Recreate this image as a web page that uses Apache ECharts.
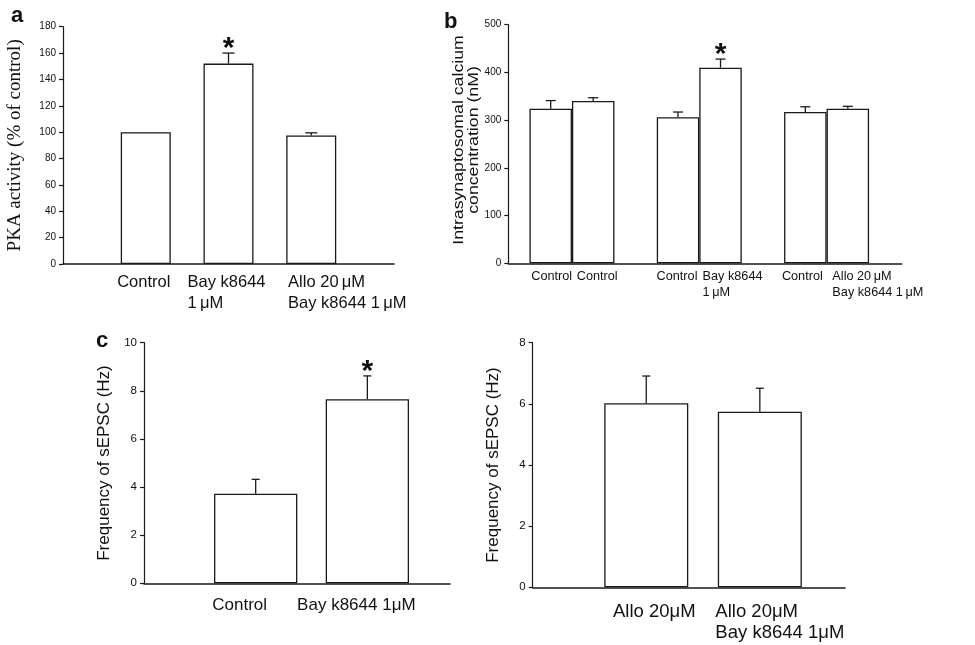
<!DOCTYPE html>
<html>
<head>
<meta charset="utf-8">
<script src="https://cdn.jsdelivr.net/npm/echarts@6/dist/echarts.min.js"></script>
<style>html,body{margin:0;padding:0;background:#fff}#c{width:975px;height:645px}</style>
</head>
<body>
<div id="c"></div>
<script>
// ---------- data ----------
// panel a: PKA activity
const aCats = ['Control', 'Bay k8644\n1\u2009\u03bcM', 'Allo 20\u2009\u03bcM\nBay k8644 1\u2009\u03bcM'];
const aVals = [100, 152, 97.5];
const aErr = [0, 8, 2];
const aStar = [0, 1, 0];

// panel b: intrasynaptosomal calcium (pairs: control bar, treatment bar)
const bCtrlCats = ['Control', 'Control', 'Control'];
const bTreatCats = ['Control', 'Bay k8644\n1\u2009\u03bcM', 'Allo 20\u2009\u03bcM\nBay k8644 1\u2009\u03bcM'];
const bCtrlVals = [324, 306, 317];
const bCtrlErr = [17, 11, 11];
const bCtrlStar = [0, 0, 0];
const bTreatVals = [340, 410, 324];
const bTreatErr = [7, 18, 5];
const bTreatStar = [0, 1, 0];
const bTitle = 'Intrasynaptosomal calcium\nconcentration (nM)';

// panel c: sEPSC frequency
const cCats = ['Control', 'Bay k8644 1\u03bcM'];
const cVals = [3.72, 7.65];
const cErr = [0.6, 0.97];
const cStar = [0, 1];

// panel d: sEPSC frequency
const dCats = ['Allo 20\u03bcM', 'Allo 20\u03bcM\nBay k8644 1\u03bcM'];
const dVals = [6.02, 5.74];
const dErr = [0.89, 0.77];
const dStar = [0, 0];

// ---------- styling / layout ----------
const SANS = 'Liberation Sans, Arial, sans-serif';
const SERIF = 'Liberation Serif, Times New Roman, serif';
const INK = '#1a1a1a';

const chart = echarts.init(document.getElementById('c'), null, {renderer: 'canvas'});

function richLabel(t) {
  return t.split('\n').map(s => '{l|' + s + '}').join('\n');
}

function barSeries(i, cats, vals, width, fs, lh, dist, shifts) {
  return {
    type: 'bar', xAxisIndex: i, yAxisIndex: i, barWidth: width, barGap: '0%',
    animation: false, silent: true,
    itemStyle: {color: '#fff', borderColor: INK, borderWidth: 1.3},
    data: vals.map((v, k) => ({value: [k + 1, v], label: {offset: [shifts[k], 0]}})),
    label: {
      show: true, position: 'bottom', distance: dist,
      formatter: p => richLabel(cats[p.dataIndex]),
      fontFamily: SANS, fontSize: fs, lineHeight: lh, color: '#111',
      rich: {l: {align: 'left', fontFamily: SANS, fontSize: fs, lineHeight: lh, color: '#111'}}
    }
  };
}

function errSeries(i, vals, errs, stars, off, cap) {
  return {
    type: 'custom', xAxisIndex: i, yAxisIndex: i, animation: false, silent: true, z: 5,
    data: vals.map((v, k) => [k + 1, v, errs[k], stars[k]]),
    encode: {x: 0, y: 1},
    renderItem: function (params, api) {
      const x = api.value(0), v = api.value(1), e = api.value(2), s = api.value(3);
      const p0 = api.coord([x, v]);
      const p1 = api.coord([x, v + e]);
      const cx = p0[0] + off;
      const ch = [];
      if (e > 0) {
        ch.push({type: 'line', shape: {x1: cx, y1: p0[1], x2: cx, y2: p1[1]}, style: {stroke: INK, lineWidth: 1.3}});
        ch.push({type: 'line', shape: {x1: cx - cap / 2, y1: p1[1], x2: cx + cap / 2, y2: p1[1]}, style: {stroke: INK, lineWidth: 1.3}});
      }
      if (s) {
        ch.push({type: 'text', style: {text: '*', x: cx, y: p1[1] - 4, align: 'center', verticalAlign: 'middle', font: 'bold 30px ' + SANS, fill: '#111'}});
      }
      return {type: 'group', children: ch};
    }
  };
}

function yAx(i, max, interval, name, nameGap, nameStyle, fs) {
  return {
    type: 'value', gridIndex: i, min: 0, max: max, interval: interval,
    name: name, nameLocation: 'middle', nameRotate: 90, nameGap: nameGap,
    nameTextStyle: nameStyle,
    axisLine: {show: true, lineStyle: {color: INK, width: 1.2}},
    axisTick: {show: true, inside: false, length: 4, lineStyle: {color: INK, width: 1.2}},
    axisLabel: {show: true, margin: 7, fontFamily: SANS, fontSize: fs, color: '#111'},
    splitLine: {show: false}
  };
}

function xAx(i, min, max) {
  return {
    type: 'value', gridIndex: i, min: min, max: max,
    axisLine: {show: true, onZero: true, lineStyle: {color: INK, width: 1.5}},
    axisTick: {show: false}, axisLabel: {show: false}, splitLine: {show: false}
  };
}

const option = {
  backgroundColor: '#fff',
  animation: false,
  grid: [
    {left: 63, top: 26.7, width: 331, height: 237.3},
    {left: 508.3, top: 24.7, width: 393.4, height: 238.6},
    {left: 144, top: 342.7, width: 306, height: 240.6},
    {left: 532.7, top: 342.7, width: 312.3, height: 244.6}
  ],
  xAxis: [xAx(0, 0, 4), xAx(1, 0.5, 3.59), xAx(2, 0, 2.74), xAx(3, 0, 2.75)],
  yAxis: [
    yAx(0, 180, 20, 'PKA activity (% of control)', 38, {fontFamily: SERIF, fontSize: 19, color: '#111'}, 10),
    yAx(1, 500, 100, '', 0, {}, 10),
    yAx(2, 10, 2, 'Frequency of sEPSC (Hz)', 31, {fontFamily: SANS, fontSize: 17, color: '#111'}, 11.5),
    yAx(3, 8, 2, 'Frequency of sEPSC (Hz)', 31, {fontFamily: SANS, fontSize: 17, color: '#111'}, 11.5)
  ],
  series: [
    barSeries(0, aCats, aVals, 50, 16.5, 21, 8, [-2, -2, 36]),
    errSeries(0, aVals, aErr, aStar, 0, 12),
    barSeries(1, bCtrlCats, bCtrlVals, 42.5, 12.7, 16, 5, [1, -1, -3]),
    barSeries(1, bTreatCats, bTreatVals, 42.5, 12.7, 16, 5, [4, 12, 30]),
    errSeries(1, bCtrlVals, bCtrlErr, bCtrlStar, -21.25, 10),
    errSeries(1, bTreatVals, bTreatErr, bTreatStar, 21.25, 10),
    barSeries(2, cCats, cVals, 83.3, 17, 22, 11, [-16, -11]),
    errSeries(2, cVals, cErr, cStar, 0, 8),
    barSeries(3, dCats, dVals, 84, 18.5, 21, 14, [8, 20]),
    errSeries(3, dVals, dErr, dStar, 0, 8)
  ],
  graphic: [
    {type: 'text', left: 11, top: 4.7, style: {text: 'a', font: 'bold 22px ' + SANS, fill: '#111'}},
    {type: 'text', left: 444, top: 11, style: {text: 'b', font: 'bold 22px ' + SANS, fill: '#111'}},
    {type: 'text', left: 96, top: 329.7, style: {text: 'c', font: 'bold 22px ' + SANS, fill: '#111'}},
    {type: 'text', x: 466, y: 140, rotation: Math.PI / 2, scaleX: 1.18, scaleY: 1,
     style: {text: bTitle, font: '15px ' + SANS, fill: '#111', align: 'center', verticalAlign: 'middle', lineHeight: 15}}
  ]
};
chart.setOption(option);
</script>
</body>
</html>
